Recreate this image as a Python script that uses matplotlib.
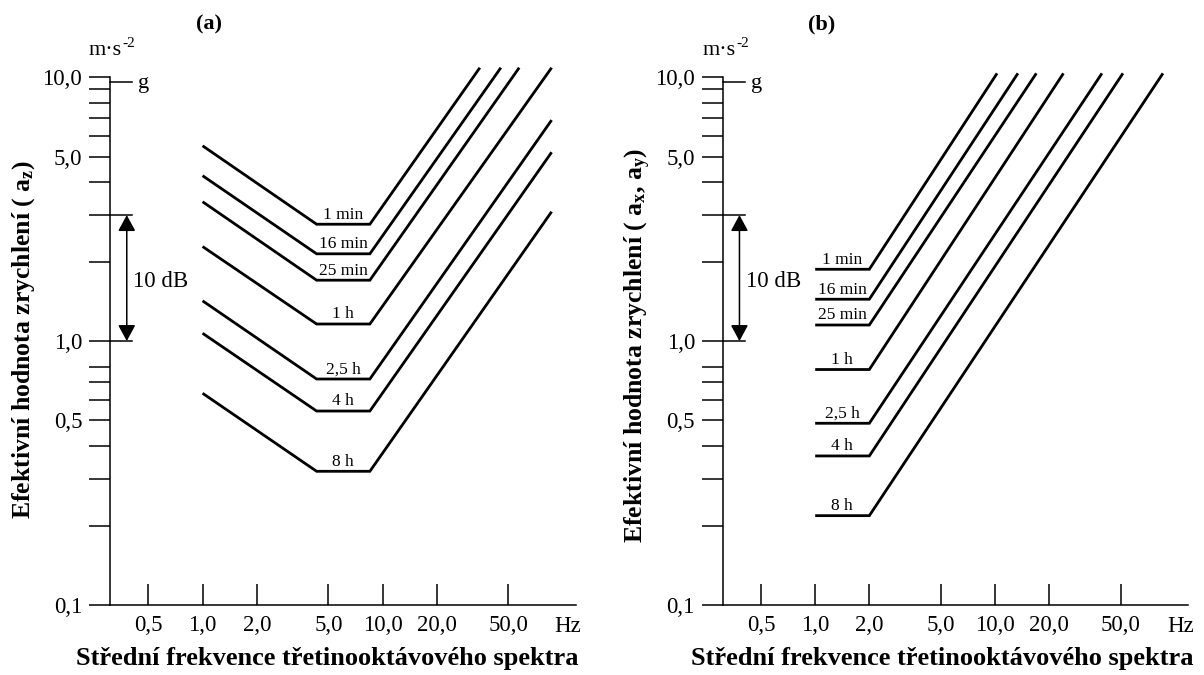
import matplotlib
matplotlib.use("Agg")
import matplotlib.pyplot as plt
from matplotlib.ticker import NullLocator, FixedLocator, NullFormatter
from matplotlib.transforms import blended_transform_factory

plt.rcParams['font.family'] = ['Liberation Serif', 'DejaVu Serif']
plt.rcParams['mathtext.fontset'] = 'custom'
plt.rcParams['mathtext.rm'] = 'Liberation Serif'
plt.rcParams['mathtext.it'] = 'Liberation Serif:italic'
plt.rcParams['mathtext.bf'] = 'Liberation Serif:bold'

# ---- data -------------------------------------------------------------
durations = ["1 min", "16 min", "25 min", "1 h", "2,5 h", "4 h", "8 h"]

# (a) vertical direction a_z: 1 Hz start, flat band, rising branch end
az_start_freq = 1.0
az_flat_freq = (4.3, 8.5)
az_start = [5.49, 4.23, 3.37, 2.28, 1.42, 1.07, 0.634]
az_flat = [2.77, 2.14, 1.70, 1.16, 0.718, 0.543, 0.321]
az_end_freq = [34.7, 45.4, 57.4, 86.9, 86.9, 86.9, 86.9]
az_end = [10.85, 10.85, 10.85, 10.85, 6.87, 5.19, 3.09]

# (b) horizontal directions a_x, a_y: flat band then rising branch
axy_flat_freq = (1.0, 2.0)
axy_flat = [1.87, 1.44, 1.15, 0.78, 0.488, 0.367, 0.218]
axy_end_freq = [10.26, 13.4, 16.96, 24.0, 39.3, 51.4, 85.8]
axy_end = [10.33, 10.33, 10.33, 10.33, 10.33, 10.33, 10.33]

x_ticks = [0.5, 1, 2, 5, 10, 20, 50]
x_ticklabels = ["0,5", "1,0", "2,0", "5,0", "10,0", "20,0", "50,0"]
y_ticks = [0.1, 0.5, 1, 5, 10]
y_ticklabels = ["0,1", "0,5", "1,0", "5,0", "10,0"]
y_minor = [0.2, 0.3, 0.4, 0.6, 0.7, 0.8, 2, 3, 4, 6, 7, 8, 9]
g_value = 9.6
db_range = (1.0, 3.0)

# ---- figure -----------------------------------------------------------
W, H = 1204, 675
fig = plt.figure(figsize=(W / 100, H / 100), dpi=100)


def px_axes(x0, x1, y_top, y_bot):
    return fig.add_axes([x0 / W, 1 - y_bot / H, (x1 - x0) / W, (y_bot - y_top) / H])


def style_axes(ax):
    ax.set_xscale('log')
    ax.set_yscale('log')
    ax.set_xlim(0.306, 118.7)
    ax.set_ylim(0.1, 10.85)
    ax.spines['top'].set_visible(False)
    ax.spines['right'].set_visible(False)
    for s in ('left', 'bottom'):
        ax.spines[s].set_linewidth(1.1)
    ax.spines['left'].set_bounds(0.1, 10)
    ax.set_xticks(x_ticks, labels=x_ticklabels)
    ax.xaxis.set_minor_locator(NullLocator())
    ax.set_yticks(y_ticks, labels=y_ticklabels)
    ax.yaxis.set_minor_locator(FixedLocator(y_minor))
    ax.yaxis.set_minor_formatter(NullFormatter())
    ax.tick_params(axis='y', which='both', direction='out', length=15,
                   width=1.1, labelsize=16.5, pad=5)
    ax.tick_params(axis='x', which='major', direction='in', length=15,
                   width=1.1, labelsize=16.5, pad=7)
    ax.patch.set_visible(False)

    trans = blended_transform_factory(ax.transAxes, ax.transData)
    # short marks to the right of the axis: g, and the 10 dB span
    for yv in (g_value, db_range[0], db_range[1]):
        ax.plot([0, 0.047], [yv, yv], transform=trans, color='black',
                lw=1.1, clip_on=False)
    ax.annotate('g', xy=(0.06, g_value), xycoords=trans,
                xytext=(0, -4.5), textcoords='offset points',
                ha='left', va='baseline', fontsize=16)
    ax.annotate('', xy=(0.036, db_range[0]), xytext=(0.036, db_range[1]),
                xycoords=trans, textcoords=trans,
                arrowprops=dict(arrowstyle='<|-|>,head_length=0.7,head_width=0.38',
                                mutation_scale=14, color='black', lw=1.1,
                                shrinkA=0, shrinkB=0))
    ax.text(0.049, 1.68, '10 dB', transform=trans, ha='left', va='center',
            fontsize=16.5)
    ax.text(0.983, -0.0503, 'Hz', transform=ax.transAxes, ha='center',
            va='baseline', fontsize=16.5)


line_kw = dict(color='black', lw=2.0, solid_joinstyle='miter',
               solid_capstyle='butt', clip_on=False)

# (a)
ax_a = px_axes(110, 576, 67.7, 605)
style_axes(ax_a)
for name, v0, vf, fe, ve in zip(durations, az_start, az_flat, az_end_freq, az_end):
    ax_a.plot([az_start_freq, az_flat_freq[0], az_flat_freq[1], fe],
              [v0, vf, vf, ve], **line_kw)
    fmid = (az_flat_freq[0] * az_flat_freq[1]) ** 0.5
    ax_a.annotate(name, xy=(fmid, vf), xytext=(0, 4), textcoords='offset points',
                  ha='center', va='baseline', fontsize=12.5)

# (b)
ax_b = px_axes(722.7, 1188.3, 67.7, 605)
style_axes(ax_b)
for name, vf, fe, ve in zip(durations, axy_flat, axy_end_freq, axy_end):
    ax_b.plot([axy_flat_freq[0], axy_flat_freq[1], fe], [vf, vf, ve], **line_kw)
    fmid = (axy_flat_freq[0] * axy_flat_freq[1]) ** 0.5
    ax_b.annotate(name, xy=(fmid, vf), xytext=(0, 4), textcoords='offset points',
                  ha='center', va='baseline', fontsize=12.5)


def ftext(x, y, s, ha='center', va='center', **kw):
    fig.text(x / W, 1 - y / H, s, ha=ha, va=va, **kw)


ftext(209, 24, '(a)', fontsize=16, fontweight='bold')
ftext(822, 24, '(b)', fontsize=16, fontweight='bold')
# unit m·s⁻² written with a plain hyphen in the exponent
for x_join in (122, 736):
    ftext(x_join, 55, 'm·s', ha='right', va='baseline', fontsize=16)
    ftext(x_join, 47, '-2', ha='left', va='baseline', fontsize=11)
ftext(24, 340, r'Efektivní hodnota zrychlení ( $\mathbf{a_z}$)',
      rotation=90, fontsize=18.5, fontweight='bold')
ftext(638, 345, r'Efektivní hodnota zrychlení ( $\mathbf{a_x}$, $\mathbf{a_y}$)',
      rotation=90, fontsize=18.5, fontweight='bold')
ftext(327, 659, 'Střední frekvence třetinooktávového spektra',
      fontsize=19, fontweight='bold')
ftext(942, 659, 'Střední frekvence třetinooktávového spektra',
      fontsize=19, fontweight='bold')

fig.savefig('out.png', dpi=100, facecolor='white')
